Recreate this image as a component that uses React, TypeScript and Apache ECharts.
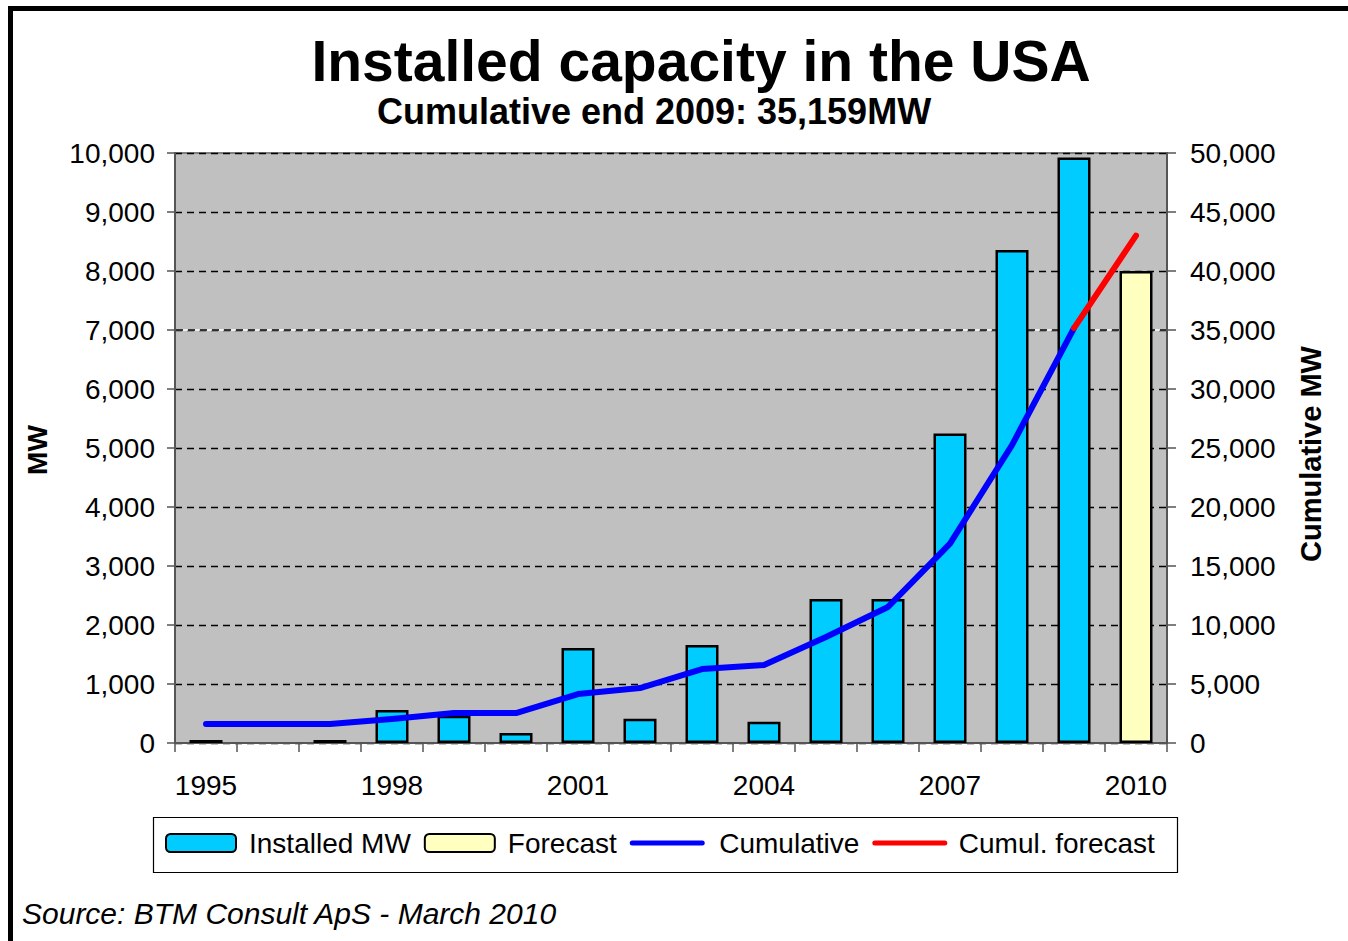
import React, { useEffect, useRef } from "react";
import * as echarts from "echarts";

// Years on the category axis
const years = [
  "1995", "1996", "1997", "1998", "1999", "2000", "2001", "2002",
  "2003", "2004", "2005", "2006", "2007", "2008", "2009", "2010",
];

// Annual installations (MW)
const installedMW = [
  50, null, 50, 560, 460, 170, 1610, 410, 1660, 360, 2440, 2440, 5244, 8358, 9922, null,
];

// Forecast installation for 2010 (MW)
const forecastMW = [
  null, null, null, null, null, null, null, null,
  null, null, null, null, null, null, null, 8000,
];

// Cumulative capacity (MW)
const cumulativeMW = [
  1610, 1610, 1610, 2030, 2540, 2540, 4150, 4660, 6270, 6610, 8980, 11530, 16900, 25250, 35159, null,
];

// Cumulative forecast, continuing from the 2009 figure
const cumulForecastMW = [
  null, null, null, null, null, null, null, null,
  null, null, null, null, null, null, 35159, 43000,
];

const leftAxis = { min: 0, max: 10000, interval: 1000 };
const rightAxis = { min: 0, max: 50000, interval: 5000 };
const highlightLevel = 7000;

const FONT = "'Liberation Sans', Arial, Helvetica, sans-serif";
const fmt = (v: number) => v.toLocaleString("en-US");

// Legend entries and the rich-text key used to lay out each one
const legendNames = ["Installed MW", "Forecast", "Cumulative", "Cumul. forecast"];
const legendKeys = ["a", "b", "c", "d"];

export default function App() {
  const ref = useRef<HTMLDivElement>(null);

  useEffect(() => {
    if (!ref.current) return;
    const chart = echarts.init(ref.current, undefined, { renderer: "svg" });

    const baseGraphic: any[] = [
      // frame lines
      { type: "rect", id: "frameTop", shape: { x: 8, y: 6, width: 1340, height: 5 }, style: { fill: "#000" } },
      { type: "rect", id: "frameLeft", shape: { x: 8, y: 6, width: 5, height: 935 }, style: { fill: "#000" } },
      // legend box
      {
        type: "rect", id: "legendBox", z: 0,
        shape: { x: 153.5, y: 817.5, width: 1024, height: 55 },
        style: { fill: "#fff", stroke: "#000", lineWidth: 1.2 },
      },
      {
        type: "text", id: "title", x: 701, y: 61,
        style: {
          text: "Installed capacity in the USA", font: `bold 57px ${FONT}`,
          fill: "#000", textAlign: "center", textVerticalAlign: "middle",
        },
      },
      {
        type: "text", id: "subtitle", x: 654, y: 111,
        style: {
          text: "Cumulative end 2009: 35,159MW", font: `bold 36px ${FONT}`,
          fill: "#000", textAlign: "center", textVerticalAlign: "middle",
        },
      },
      {
        type: "text", id: "leftName", x: 37, y: 450, rotation: Math.PI / 2,
        style: {
          text: "MW", font: `bold 28px ${FONT}`, fill: "#000",
          textAlign: "center", textVerticalAlign: "middle",
        },
      },
      {
        type: "text", id: "rightName", x: 1311, y: 454, rotation: Math.PI / 2,
        style: {
          text: "Cumulative MW", font: `bold 29px ${FONT}`, fill: "#000",
          textAlign: "center", textVerticalAlign: "middle",
        },
      },
      {
        type: "text", id: "source", x: 22, y: 913,
        style: {
          text: "Source: BTM Consult ApS - March 2010", font: `italic 30px ${FONT}`,
          fill: "#000", textAlign: "left", textVerticalAlign: "middle",
        },
      },
    ];

    const richBase = { fontSize: 28, color: "#000", fontFamily: FONT };
    const option: any = {
      animation: false,
      backgroundColor: "#fff",
      textStyle: { fontFamily: FONT },
      grid: {
        left: 175, right: 181, top: 153, bottom: 198,
        show: true, backgroundColor: "#C0C0C0", borderColor: "#808080", borderWidth: 2,
      },
      legend: {
        left: 153, top: 817,
        padding: [12, 12, 12, 12],
        itemWidth: 70, itemHeight: 18, itemGap: 13,
        lineStyle: { width: 5 },
        formatter: (name: string) => `{${legendKeys[legendNames.indexOf(name)]}|${name}}`,
        textStyle: {
          fontSize: 28, color: "#000", fontFamily: FONT,
          rich: {
            a: { ...richBase, padding: [0, 1, 0, 8] },
            b: { ...richBase, padding: [0, 13, 0, 8] },
            c: { ...richBase, padding: [0, 2, 0, 12] },
            d: { ...richBase, padding: [0, 0, 0, 9] },
          },
        },
        data: [
          { name: "Installed MW" },
          { name: "Forecast" },
          { name: "Cumulative", itemStyle: { opacity: 0 } },
          { name: "Cumul. forecast", itemStyle: { opacity: 0 } },
        ],
      },
      xAxis: {
        type: "category",
        data: years,
        boundaryGap: true,
        axisLine: { lineStyle: { color: "#555", width: 2 } },
        axisTick: { show: true, interval: 0, length: 9, lineStyle: { color: "#555", width: 1.5 } },
        axisLabel: { interval: 2, fontSize: 28, color: "#000", margin: 28, fontFamily: FONT },
      },
      yAxis: [
        {
          type: "value", position: "left", ...leftAxis,
          axisLine: { show: true, lineStyle: { color: "#555", width: 2 } },
          axisTick: { show: true, length: 8, lineStyle: { color: "#555", width: 1.5 } },
          axisLabel: { fontSize: 28, color: "#000", margin: 20, formatter: fmt, fontFamily: FONT },
          splitLine: { show: true, lineStyle: { color: "#000", type: [7, 5], width: 1.3 } },
        },
        {
          type: "value", position: "right", ...rightAxis,
          axisLine: { show: true, lineStyle: { color: "#555", width: 2 } },
          axisTick: { show: true, length: 9, lineStyle: { color: "#555", width: 1.5 } },
          axisLabel: { fontSize: 28, color: "#000", margin: 23, formatter: fmt, fontFamily: FONT },
          splitLine: { show: false },
        },
      ],
      series: [
        {
          name: "Installed MW", type: "bar", stack: "mw", data: installedMW,
          barWidth: 33,
          itemStyle: { color: "#00CCFF", borderColor: "#000", borderWidth: 2.5 },
          z: 3,
        },
        {
          name: "Forecast", type: "bar", stack: "mw", data: forecastMW,
          barWidth: 33,
          itemStyle: { color: "#FFFFC0", borderColor: "#000", borderWidth: 2.5 },
          z: 3,
        },
        {
          name: "Cumulative", type: "line", yAxisIndex: 1, data: cumulativeMW,
          symbol: "none", showSymbol: false,
          lineStyle: { color: "#0000FF", width: 6, cap: "round", join: "round" },
          itemStyle: { color: "#0000FF" },
          z: 4,
        },
        {
          name: "Cumul. forecast", type: "line", yAxisIndex: 1, data: cumulForecastMW,
          symbol: "none", showSymbol: false,
          lineStyle: { color: "#FF0000", width: 6, cap: "round", join: "round" },
          itemStyle: { color: "#FF0000" },
          z: 4,
        },
      ],
      graphic: { elements: baseGraphic },
    };

    chart.setOption(option);

    // White rule behind the 7,000 gridline, placed through the axis scale
    const yHi = chart.convertToPixel({ yAxisIndex: 0 }, highlightLevel) as number;
    const xL = 175;
    const xR = 1348 - 181;
    const extra = [
      {
        type: "line", id: "hiWhite", z: 1,
        shape: { x1: xL + 1, y1: yHi, x2: xR - 1, y2: yHi },
        style: { stroke: "#fff", lineWidth: 1.5 },
      },
      {
        type: "line", id: "hiDash", z: 1,
        shape: { x1: xL + 1, y1: yHi, x2: xR - 1, y2: yHi },
        style: { stroke: "#000", lineWidth: 1.3, lineDash: [7, 5] },
      },
    ];
    chart.setOption({ ...option, graphic: { elements: [...baseGraphic, ...extra] } }, true);

    return () => chart.dispose();
  }, []);

  return (
    <div
      ref={ref}
      style={{ position: "fixed", left: 0, top: 0, width: 1348, height: 941 }}
    />
  );
}
